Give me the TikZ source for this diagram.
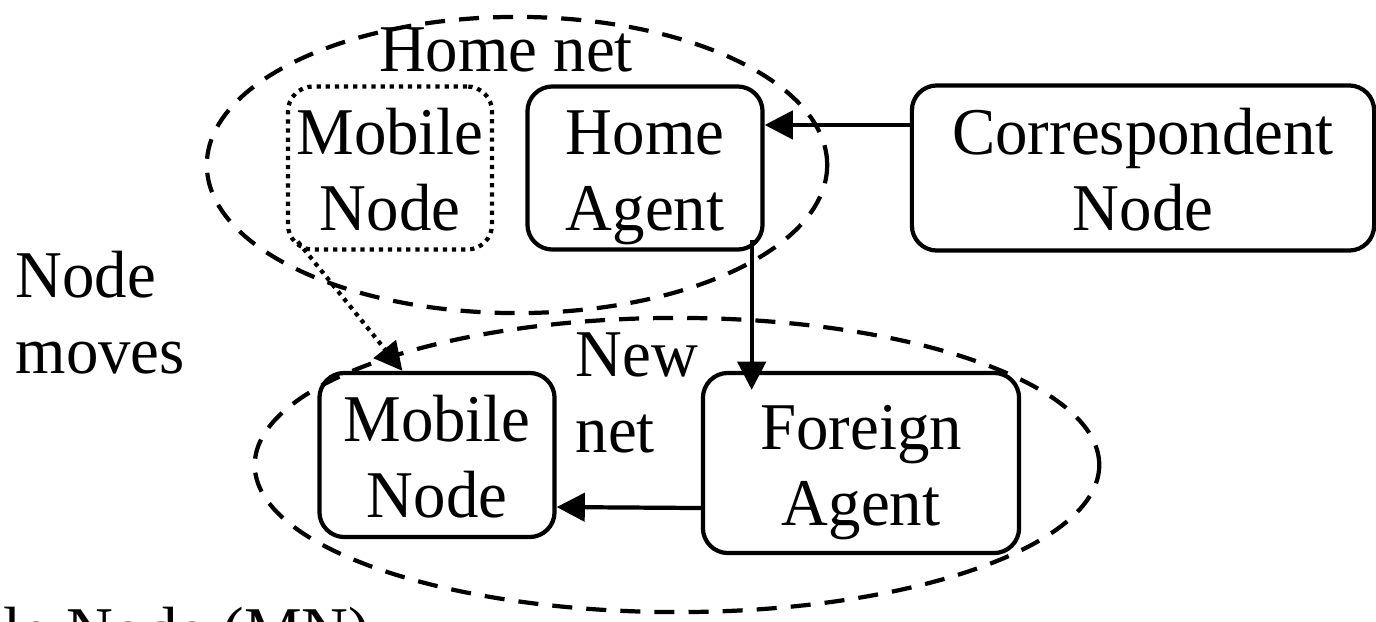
\documentclass[tikz,border=0pt]{standalone}
\usepackage{fontspec}
\setmainfont[FakeStretch=0.97]{Liberation Serif}
\usetikzlibrary{arrows.meta}
\begin{document}
\begin{tikzpicture}
  [x=0.01cm,y=-0.01cm,
   box/.style={rectangle,rounded corners=0.25cm,draw=black,line width=1.2pt,
     align=center,inner sep=0pt,font=\fontsize{19}{21.6}\selectfont,
     text height=40.1pt,text depth=4.5pt},
   words/.style={inner sep=0pt,align=left,font=\fontsize{19}{21.6}\selectfont},
   net/.style={draw=black,line width=1.2pt,dash pattern=on 5.7pt off 4pt},
   msg/.style={-{Triangle[length=8pt,width=8pt]},line width=1.2pt}]
\clip (0,0) rectangle (1376,621); % fixes the bounding box
\node at (390,168) (mnhome) [box, dash pattern=on 1.2pt off 1.4pt,
  minimum width=2.04cm, minimum height=1.63cm] {Mobile\\Node};
\node at (645,168) (home) [box, minimum width=2.35cm, minimum height=1.63cm] {Home\\Agent};
\node at (1143,168) (corr) [box, minimum width=4.62cm, minimum height=1.65cm] {Correspondent\\Node};
\node at (437,455) (mnnew) [box, minimum width=2.35cm, minimum height=1.64cm] {Mobile\\Node};
\node at (861,463) (foreign) [box, minimum width=3.16cm, minimum height=1.8cm] {Foreign\\Agent};
%
\draw [net] (517,165) ellipse [x radius=3.1cm, y radius=1.48cm];
\draw [net] (677,465) ellipse [x radius=4.22cm, y radius=1.47cm];
\node at (506,50) (homenet) [words] {Home net};
\node at (575,393) (newnet) [words, anchor=west] {New\\net};
\node at (15,313) (moves) [words, anchor=west] {Node\\moves};
\node at (-138,653) (mn) [inner sep=0pt, anchor=base west, font=\fontsize{19}{21.6}\selectfont]
  {Mobile Node (MN)};
%
\draw [msg] ([yshift=0.43cm]corr.west) -- ([yshift=0.43cm]home.east);
\coordinate (drop) at ([xshift=-0.13cm]home.south east);
\coordinate (land) at (drop |- foreign.north);
\draw [msg] ([yshift=0.12cm]drop) -- ([yshift=-0.19cm]land);
\draw [msg] ([yshift=-0.45cm]foreign.west) -- ([yshift=-0.52cm]mnnew.east);
\draw [msg, dash pattern=on 1.2pt off 1.4pt]
  ([xshift=0.12cm,yshift=0.1cm]mnhome.south west) -- ([xshift=0.85cm]mnnew.north west);
\end{tikzpicture}
\end{document}
